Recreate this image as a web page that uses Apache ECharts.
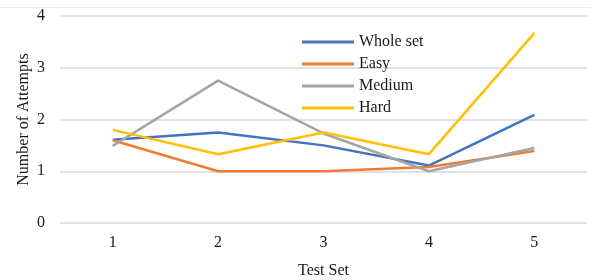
<!DOCTYPE html>
<html>
<head>
<meta charset="utf-8">
<script src="https://cdn.jsdelivr.net/npm/echarts@6/dist/echarts.min.js"></script>
<style>
  html, body { margin: 0; padding: 0; background: #fff; }
  #main { width: 591px; height: 280px; }
</style>
</head>
<body>
<div id="main"></div>
<script>
var categories = ['1', '2', '3', '4', '5'];
var wholeSet = [1.61, 1.75, 1.5, 1.11, 2.09];
var easy = [1.6, 1.0, 1.0, 1.08, 1.39];
var medium = [1.49, 2.75, 1.73, 1.0, 1.45];
var hard = [1.8, 1.33, 1.75, 1.33, 3.67];

var chartDom = document.getElementById('main');
var myChart = echarts.init(chartDom);
var font = '"Liberation Serif", "Times New Roman", serif';

function line(name, color, data) {
    return {
        name: name,
        type: 'line',
        data: data,
        symbol: 'none',
        lineStyle: { color: color, width: 2.5 },
        itemStyle: { color: color }
    };
}

var option = {
    animation: false,
    textStyle: { fontFamily: font },
    graphic: [{
        type: 'line',
        shape: { x1: 0, y1: 7.5, x2: 591, y2: 7.5 },
        style: { stroke: '#ececec', lineWidth: 1 }
    }],
    legend: {
        orient: 'vertical',
        left: 302,
        top: 34,
        padding: 0,
        itemWidth: 52,
        itemHeight: 3,
        itemGap: 6,
        icon: 'rect',
        textStyle: { fontFamily: font, fontSize: 16, color: '#1a1a1a' },
        data: ['Whole set', 'Easy', 'Medium', 'Hard']
    },
    grid: { left: 60, right: 4, top: 16, bottom: 57, outerBoundsMode: 'none' },
    xAxis: {
        type: 'category',
        data: categories,
        boundaryGap: true,
        name: 'Test Set',
        nameLocation: 'middle',
        nameGap: 40,
        nameMoveOverlap: false,
        nameTextStyle: { fontFamily: font, fontSize: 16, color: '#1a1a1a' },
        axisLine: { show: false },
        axisTick: { show: false },
        axisLabel: { fontFamily: font, fontSize: 16, color: '#1a1a1a', margin: 12 }
    },
    yAxis: {
        type: 'value',
        min: 0,
        max: 4,
        interval: 1,
        name: 'Number of Attempts',
        nameLocation: 'middle',
        nameGap: 28,
        nameMoveOverlap: false,
        nameTextStyle: { fontFamily: font, fontSize: 16, color: '#1a1a1a' },
        axisLine: { show: false },
        axisTick: { show: false },
        axisLabel: { fontFamily: font, fontSize: 16, color: '#1a1a1a', margin: 15 },
        splitLine: { lineStyle: { color: '#d9d9d9', width: 1.5 } }
    },
    series: [
        line('Whole set', '#4472C4', wholeSet),
        line('Easy', '#ED7D31', easy),
        line('Medium', '#A5A5A5', medium),
        line('Hard', '#FFC000', hard)
    ]
};

option && myChart.setOption(option);
</script>
</body>
</html>
